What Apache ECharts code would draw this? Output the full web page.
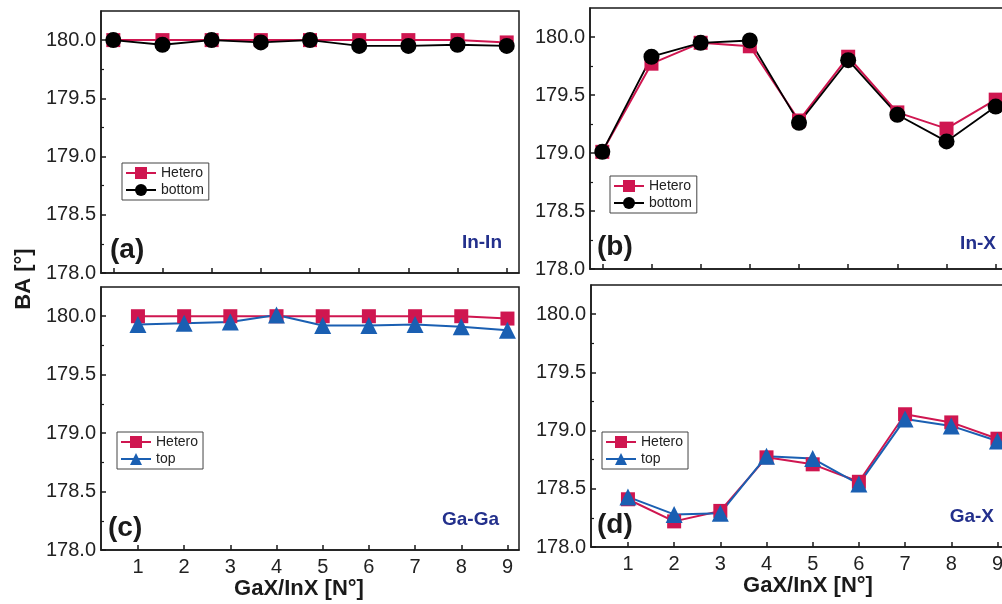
<!DOCTYPE html>
<html>
<head>
<meta charset="utf-8">
<script src="https://cdn.jsdelivr.net/npm/echarts@6/dist/echarts.min.js"></script>
<style>
  html, body { margin: 0; padding: 0; background: #fff; overflow: hidden; }
  #main { width: 1014px; height: 604px; }
</style>
</head>
<body>
<div id="main"></div>
<script>
// x positions (GaX/InX number) and axis ticks
var xTicks = [1, 2, 3, 4, 5, 6, 7, 8, 9];
var yTicks = [178.0, 178.5, 179.0, 179.5, 180.0];
var yMinor = [178.25, 178.75, 179.25, 179.75];

// (a) In-In
var heteroA = [180.0, 180.0, 180.0, 180.0, 180.0, 180.0, 180.0, 180.0, 179.98];
var bottomA = [180.0, 179.96, 180.0, 179.98, 180.0, 179.95, 179.95, 179.96, 179.95];
// (b) In-X
var heteroB = [179.01, 179.77, 179.95, 179.92, 179.28, 179.83, 179.35, 179.21, 179.46];
var bottomB = [179.01, 179.83, 179.95, 179.97, 179.26, 179.80, 179.33, 179.10, 179.40];
// (c) Ga-Ga
var heteroC = [180.0, 180.0, 180.0, 180.0, 180.0, 180.0, 180.0, 180.0, 179.98];
var topC = [179.93, 179.94, 179.95, 180.01, 179.92, 179.92, 179.93, 179.91, 179.88];
// (d) Ga-X
var heteroD = [178.41, 178.22, 178.31, 178.77, 178.71, 178.56, 179.14, 179.07, 178.93];
var topD = [178.43, 178.28, 178.29, 178.78, 178.76, 178.54, 179.10, 179.04, 178.91];

var RED = '#cf1650';
var BLUE = '#1a5fb2';
var NAVY = '#23308c';
var FONT = '"Liberation Sans", Arial, sans-serif';

function pairs(vals) {
  return vals.map(function (v, i) { return [xTicks[i], v]; });
}

// panels b and d run past the right edge of the picture, as in the original
var grids = [
  { left: 101, top: 11, width: 418, height: 262 },
  { left: 590, top: 8, width: 418, height: 261 },
  { left: 101, top: 287, width: 418, height: 263 },
  { left: 591, top: 285, width: 418, height: 262 }
];
var xMin = [0.75, 0.75, 0.2, 0.2];

var xAxes = [], yAxes = [];
grids.forEach(function (g, i) {
  g.show = true;
  g.borderColor = '#1a1a1a';
  g.borderWidth = 1.5;
  var bottomRow = i >= 2;
  xAxes.push({
    gridIndex: i, type: 'value', min: xMin[i], max: 9.25,
    axisLine: { onZero: false, lineStyle: { color: '#1a1a1a', width: 1.5 } },
    axisTick: { inside: true, length: 5, customValues: xTicks, lineStyle: { color: '#1a1a1a', width: 1.5 } },
    axisLabel: { show: bottomRow, customValues: xTicks, margin: 7, fontSize: 20, color: '#222', fontFamily: FONT },
    splitLine: { show: false },
    name: bottomRow ? 'GaX/InX [N°]' : '',
    nameLocation: 'middle',
    nameGap: 28,
    nameTextStyle: {
      fontSize: 22, fontWeight: 'bold', color: '#1a1a1a', fontFamily: FONT,
      padding: i === 2 ? [0, 22, 0, 0] : [0, 0, 0, 16]
    }
  });
  // major ticks and labels
  yAxes.push({
    gridIndex: i, type: 'value', position: 'left', min: 178, max: 180.25,
    axisLine: { onZero: false, lineStyle: { color: '#1a1a1a', width: 1.5 } },
    axisTick: { inside: true, length: 5, customValues: yTicks, lineStyle: { color: '#1a1a1a', width: 1.5 } },
    axisLabel: {
      customValues: yTicks, margin: 5, fontSize: 20, color: '#222', fontFamily: FONT,
      formatter: function (v) { return v.toFixed(1); }
    },
    splitLine: { show: false }
  });
  // minor ticks
  yAxes.push({
    gridIndex: i, type: 'value', position: 'left', min: 178, max: 180.25,
    axisLine: { show: false },
    axisTick: { inside: true, length: 3, customValues: yMinor, lineStyle: { color: '#1a1a1a', width: 1.2 } },
    axisLabel: { show: false },
    splitLine: { show: false }
  });
});

function heteroSeries(idx, vals) {
  return {
    name: 'Hetero', type: 'line', xAxisIndex: idx, yAxisIndex: idx * 2,
    data: pairs(vals), symbol: 'rect', symbolSize: 14,
    itemStyle: { color: RED }, lineStyle: { color: RED, width: 2 }
  };
}
function bottomSeries(idx, vals) {
  return {
    name: 'bottom', type: 'line', xAxisIndex: idx, yAxisIndex: idx * 2,
    data: pairs(vals), symbol: 'circle', symbolSize: 16,
    itemStyle: { color: '#000' }, lineStyle: { color: '#000', width: 1.8 }
  };
}
function topSeries(idx, vals) {
  return {
    name: 'top', type: 'line', xAxisIndex: idx, yAxisIndex: idx * 2,
    data: pairs(vals), symbol: 'triangle', symbolSize: 17,
    itemStyle: { color: BLUE }, lineStyle: { color: BLUE, width: 2 }
  };
}

function legendAt(left, top, names) {
  return {
    left: left, top: top, orient: 'vertical', data: names,
    selectedMode: false,
    borderColor: '#444', borderWidth: 1, padding: [3, 5, 3, 3],
    itemGap: 3, itemWidth: 30, itemHeight: 15,
    textStyle: { fontSize: 14, color: '#222', fontFamily: FONT }
  };
}

function label(text, x, y, size, color, align) {
  return {
    type: 'text', x: x, y: y,
    style: {
      text: text, fill: color, font: 'bold ' + size + 'px ' + FONT,
      textAlign: align, textVerticalAlign: 'middle'
    }
  };
}

var chart = echarts.init(document.getElementById('main'));
chart.setOption({
  animation: false,
  backgroundColor: '#fff',
  grid: grids,
  xAxis: xAxes,
  yAxis: yAxes,
  legend: [
    legendAt(122, 163, ['Hetero', 'bottom']),
    legendAt(610, 176, ['Hetero', 'bottom']),
    legendAt(117, 432, ['Hetero', 'top']),
    legendAt(602, 432, ['Hetero', 'top'])
  ],
  series: [
    heteroSeries(0, heteroA), bottomSeries(0, bottomA),
    heteroSeries(1, heteroB), bottomSeries(1, bottomB),
    heteroSeries(2, heteroC), topSeries(2, topC),
    heteroSeries(3, heteroD), topSeries(3, topD)
  ],
  graphic: [
    {
      type: 'text', x: 24, y: 279, rotation: Math.PI / 2,
      style: {
        text: 'BA [°]', fill: '#1a1a1a', font: 'bold 22px ' + FONT,
        textAlign: 'center', textVerticalAlign: 'middle'
      }
    },
    label('(a)', 110, 250, 28, '#1a1a1a', 'left'),
    label('(b)', 597, 247, 28, '#1a1a1a', 'left'),
    label('(c)', 108, 528, 28, '#1a1a1a', 'left'),
    label('(d)', 597, 525, 28, '#1a1a1a', 'left'),
    label('In-In', 502, 243, 19, NAVY, 'right'),
    label('In-X', 996, 244, 19, NAVY, 'right'),
    label('Ga-Ga', 499, 520, 19, NAVY, 'right'),
    label('Ga-X', 994, 517, 19, NAVY, 'right')
  ]
});
</script>
</body>
</html>
